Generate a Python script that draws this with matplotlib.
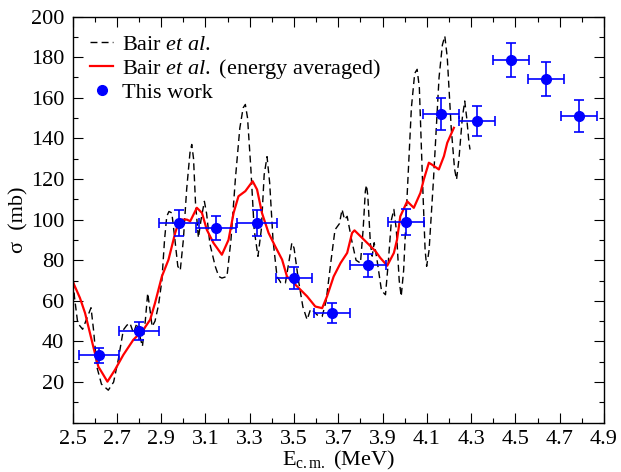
import matplotlib
matplotlib.use("Agg")
import matplotlib.pyplot as plt
from matplotlib.ticker import MultipleLocator

plt.rcParams['font.family'] = ['Liberation Serif', 'DejaVu Serif']
plt.rcParams['mathtext.fontset'] = 'custom'
plt.rcParams['mathtext.rm'] = 'Liberation Serif'
plt.rcParams['mathtext.it'] = 'Liberation Serif:italic'

# Bair et al. (dashed, raw)
bair_e = [2.500, 2.508, 2.523, 2.545, 2.570, 2.583, 2.595, 2.609, 2.630, 2.661,
          2.685, 2.706, 2.720, 2.729, 2.745, 2.759, 2.775, 2.790, 2.805, 2.815,
          2.828, 2.839, 2.850, 2.859, 2.872, 2.888, 2.903, 2.915, 2.925, 2.935,
          2.948, 2.962, 2.975, 2.986, 3.000, 3.015, 3.030, 3.038, 3.046, 3.055,
          3.068, 3.080, 3.095, 3.105, 3.120, 3.144, 3.160, 3.174, 3.197, 3.215,
          3.235, 3.255, 3.270, 3.280, 3.290, 3.305, 3.320, 3.337, 3.352, 3.365,
          3.378, 3.390, 3.405, 3.423, 3.440, 3.461, 3.478, 3.490, 3.500, 3.520,
          3.540, 3.559, 3.575, 3.587, 3.605, 3.627, 3.645, 3.665, 3.685, 3.705,
          3.717, 3.728, 3.740, 3.760, 3.780, 3.800, 3.812, 3.822, 3.827, 3.833,
          3.845, 3.853, 3.862, 3.875, 3.895, 3.913, 3.925, 3.940, 3.951, 3.962,
          3.975, 3.984, 3.995, 4.010, 4.030, 4.045, 4.056, 4.066, 4.080, 4.092,
          4.099, 4.110, 4.130, 4.155, 4.170, 4.181, 4.192, 4.210, 4.225, 4.234,
          4.245, 4.260, 4.271, 4.280, 4.290, 4.295]
bair_s = [75, 62, 49, 46, 53, 56.6, 45, 27.6, 19, 16,
          20, 31, 40, 45.7, 48, 49, 44, 49, 42, 37.5,
          50, 63.8, 55, 47.3, 50, 58, 70, 90, 101.6, 104,
          103.3, 90, 77, 75, 90, 115, 133, 137, 130, 108,
          91, 100, 109, 103, 88, 77, 72, 71.2, 72, 90,
          120, 145, 155, 156.7, 150, 125, 95, 81.9, 95, 122,
          131, 118, 90, 72, 69, 68.8, 80, 88.5, 86, 70,
          57, 50.7, 56, 55, 53, 52.3, 60, 78, 95, 98,
          105, 100, 101.6, 90, 80, 78.6, 95, 114, 117, 112,
          88, 82, 88.6, 80, 65, 63, 78, 100, 105, 95,
          70, 62.2, 75, 110, 155, 172, 174, 165, 120, 85,
          77, 85, 120, 170, 186, 190.4, 180, 145, 125, 119.7,
          130, 150, 158.4, 150, 138, 134.5]

# Bair et al. energy averaged (red)
avg_e = [2.500, 2.533, 2.556, 2.593, 2.616, 2.634, 2.657, 2.691, 2.729, 2.774,
         2.819, 2.850, 2.872, 2.903, 2.933, 2.963, 2.978, 2.993, 3.016, 3.031,
         3.061, 3.084, 3.106, 3.136, 3.174, 3.204, 3.227, 3.249, 3.280, 3.313,
         3.333, 3.355, 3.385, 3.415, 3.446, 3.468, 3.514, 3.559, 3.596, 3.627,
         3.649, 3.679, 3.710, 3.740, 3.762, 3.773, 3.800, 3.838, 3.868, 3.890,
         3.921, 3.951, 3.965, 3.980, 4.011, 4.041, 4.071, 4.086, 4.109, 4.124,
         4.154, 4.177, 4.192, 4.222]
avg_s = [69.6, 61.4, 54, 37.5, 27.6, 24.4, 20.2, 26, 33.4, 40.8,
         45.7, 50.7, 58.9, 72, 80.3, 93.4, 98.4, 100, 100, 99.2,
         105.8, 103.3, 95, 88.5, 82.7, 90, 103.3, 111.5, 114, 118.9,
         114.8, 103.3, 93.4, 86.8, 80.3, 72, 67.1, 62.2, 57.2, 56.4,
         62.2, 72, 78.6, 83.6, 93.4, 94.7, 91.8, 87.7, 84.4, 81.1,
         77.3, 83.6, 90, 101.6, 109, 105.8, 113.2, 119.7, 128, 127,
         124.7, 131.2, 137.8, 145.2]

# This work
ecm = [2.619, 2.800, 2.981, 3.148, 3.334, 3.501, 3.673, 3.836, 4.004, 4.162,
       4.325, 4.479, 4.637, 4.786]
sigma = [33.3, 45.2, 98.3, 95.9, 98.3, 71.3, 54.0, 77.6, 98.8, 152.0,
         148.5, 178.6, 169.2, 151.0]
ecm_err = [0.09, 0.09, 0.09, 0.09, 0.09, 0.081, 0.081, 0.081, 0.081, 0.081,
           0.081, 0.081, 0.081, 0.081]
sigma_err = [3.7, 4.4, 6.4, 6.1, 6.4, 5.3, 4.7, 5.7, 6.4, 7.8,
             7.5, 8.5, 8.4, 7.9]

fig, ax = plt.subplots(figsize=(6.21, 4.72), dpi=100)
fig.subplots_adjust(left=0.117, right=0.9726, top=0.965, bottom=0.1045)

ax.plot(bair_e, bair_s, color='black', lw=1.0, ls=(0, (5, 3)),
        label=r'Bair $\mathit{et\ al.}$')
ax.plot(avg_e, avg_s, color='red', lw=1.6,
        label=r'Bair $\mathit{et\ al.}$ (energy averaged)')
ax.errorbar(ecm, sigma, xerr=ecm_err, yerr=sigma_err, fmt='none', ecolor='blue',
            elinewidth=1.2, capsize=3.5, capthick=1.2)
ax.plot(ecm, sigma, 'o', color='blue', ms=7, label='This work')

ax.set_xlim(2.5, 4.9)
ax.set_ylim(0, 200)
ax.set_xticks([2.5 + 0.2 * i for i in range(13)])
ax.set_yticks(range(20, 201, 20))
ax.xaxis.set_minor_locator(MultipleLocator(0.1))
ax.yaxis.set_minor_locator(MultipleLocator(10))
ax.tick_params(which='both', direction='in', top=True, right=True,
               labelsize=16, width=0.8)
ax.tick_params(which='major', length=7, pad=6)
ax.tick_params(axis='x', which='major', pad=5)
ax.tick_params(which='minor', length=3.5)
for s in ax.spines.values():
    s.set_linewidth(1.0)

ax.set_xlabel(r'E$_{\mathrm{c.m.}}$ (MeV)', fontsize=16, labelpad=0)
ax.set_ylabel(u'\u03c3  (mb)', fontsize=16, labelpad=2)

ax.legend(loc='upper left', frameon=False, fontsize=16, handlelength=1.0,
          handletextpad=0.4, labelspacing=0.08, borderaxespad=0.35,
          borderpad=0.45)

fig.savefig('out.png', dpi=100)
